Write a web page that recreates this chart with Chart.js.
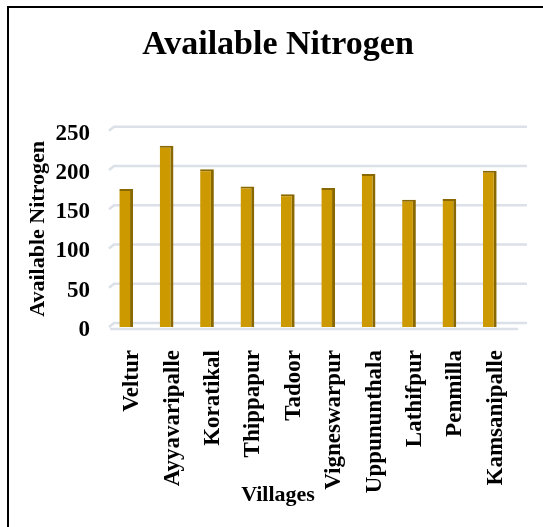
<!DOCTYPE html>
<html>
<head>
<meta charset="utf-8">
<script src="https://cdn.jsdelivr.net/npm/chart.js@4/dist/chart.umd.min.js"></script>
<style>
  html, body { margin: 0; padding: 0; background: #fff; overflow: hidden; }
  #wrap { position: relative; width: 543px; height: 527px; }
  #frame { position: absolute; left: 7px; top: 6px; right: -10px; bottom: -10px;
           border-left: 2px solid #000; border-top: 2px solid #000; pointer-events: none; }
</style>
</head>
<body>
<div id="wrap">
  <canvas id="myChart" width="543" height="527"></canvas>
  <div id="frame"></div>
</div>
<script>
'use strict';

const villages = ["Veltur", "Ayyavaripalle", "Koratikal", "Thippapur", "Tadoor",
                  "Vigneswarpur", "Uppununthala", "Lathifpur", "Penmilla", "Kamsanipalle"];
const nitrogen = [176, 231, 201, 179, 169, 177, 195, 162, 163, 199];
const yTicks = [0, 50, 100, 150, 200, 250];

const serif = "'Liberation Serif', 'Times New Roman', serif";

// back-wall gridlines + floor, shifted a little for the 3D look
const wallGrid = {
    id: 'wallGrid',
    beforeDatasetsDraw: function (chart) {
        const ctx = chart.ctx;
        const area = chart.chartArea;
        const y = chart.scales.y;
        ctx.save();
        ctx.strokeStyle = '#dce0e8';
        ctx.lineWidth = 2.5;
        yTicks.forEach(function (v) {
            const py = y.getPixelForValue(v) - 4;
            ctx.beginPath();
            ctx.moveTo(area.left + 3, py + 4);
            ctx.lineTo(area.left + 8, py);
            ctx.lineTo(area.right + 17, py);
            ctx.stroke();
        });
        const y0 = y.getPixelForValue(0) + 2;
        ctx.beginPath();
        ctx.moveTo(area.left + 4, y0);
        ctx.lineTo(area.right + 8, y0);
        ctx.stroke();
        ctx.restore();
    }
};

const ctx = document.getElementById("myChart");
const myChart = new Chart(ctx, {
    type: 'bar',
    data: {
        labels: villages,
        datasets: [
            {
                label: "Available Nitrogen",
                data: nitrogen,
                backgroundColor: "#cc9a00",
                borderColor: "#8a6800",
                borderWidth: {top: 2, right: 3, bottom: 0, left: 0},
                borderSkipped: false,
                barPercentage: 0.34,
                categoryPercentage: 1
            }
        ]
    },
    options: {
        responsive: false,
        animation: false,
        layout: {padding: {left: 13, right: 0, top: 0, bottom: 0}},
        plugins: {
            legend: {display: false},
            tooltip: {enabled: false},
            title: {
                display: true,
                text: "Available Nitrogen",
                color: "#000",
                font: {family: serif, size: 34, weight: 'bold'},
                padding: {top: 25, bottom: 65}
            },
            // x-axis title as a bottom subtitle so it centres on the whole chart
            subtitle: {
                display: true,
                position: 'bottom',
                text: "Villages",
                color: "#000",
                font: {family: serif, size: 22, weight: 'bold'},
                padding: {top: -40, bottom: 18}
            }
        },
        scales: {
            x: {
                grid: {display: false, drawTicks: false},
                border: {display: false},
                ticks: {
                    color: "#000",
                    font: {family: serif, size: 23, weight: 'bold'},
                    autoSkip: false,
                    maxRotation: 90,
                    minRotation: 90,
                    padding: 23,
                    labelOffset: 6
                },
                afterFit: function (scale) { scale.height = 195.6; }
            },
            y: {
                min: 0,
                max: 250,
                grid: {display: false, drawTicks: false},
                border: {display: false},
                ticks: {
                    stepSize: 50,
                    color: "#000",
                    font: {family: serif, size: 23, weight: 'bold'},
                    padding: 16,
                    labelOffset: 3
                },
                title: {
                    display: true,
                    text: "Available Nitrogen",
                    color: "#000",
                    font: {family: serif, size: 22, weight: 'bold'},
                    padding: {top: 12, bottom: 0}
                },
                afterFit: function (scale) { scale.width = 93; }
            },
            yRight: {
                position: 'right',
                min: 0,
                max: 250,
                grid: {display: false, drawTicks: false},
                border: {display: false},
                ticks: {display: false},
                afterFit: function (scale) { scale.width = 33; }
            }
        }
    },
    plugins: [wallGrid]
});
</script>
</body>
</html>
